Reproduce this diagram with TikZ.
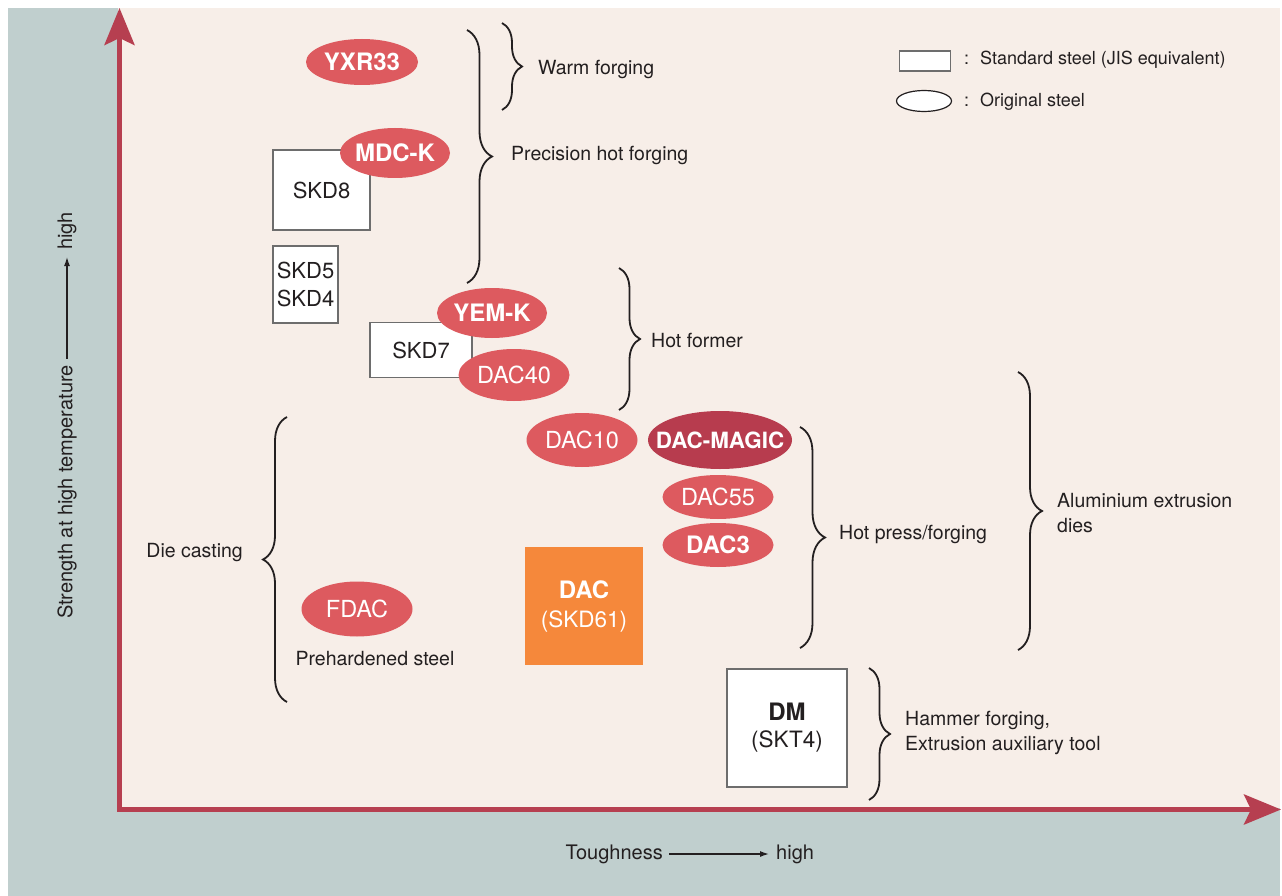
\documentclass[tikz,border=0pt]{standalone}
\usepackage{fontspec}
\setmainfont{TeX Gyre Heros}
\usetikzlibrary{shapes.geometric,arrows.meta,decorations.pathreplacing}
\definecolor{slate}{HTML}{C0CFCE}
\definecolor{paper}{HTML}{F7EEE8}
\definecolor{axisred}{HTML}{B63F50}
\definecolor{steelred}{HTML}{DD5A5F}
\definecolor{magicred}{HTML}{B73C4E}
\definecolor{dacorange}{HTML}{F5883B}
\definecolor{ink}{HTML}{231F20}
\definecolor{boxline}{HTML}{6D6D6D}

\begin{document}
\begin{tikzpicture}
  [x=1pt, y=-1pt,
   every node/.style={text=ink, inner sep=0pt},
   lbl/.style={font=\fontsize{19.5}{24.5}\selectfont, anchor=west, align=left},
   keylbl/.style={font=\fontsize{18}{20}\selectfont, anchor=west},
   axlbl/.style={font=\fontsize{20}{22}\selectfont},
   stdbox/.style={draw=boxline, line width=1.2pt, fill=white, align=center,
                  font=\fontsize{22}{28}\selectfont},
   orig/.style={ellipse, fill=steelred, text=white, minimum width=111pt, minimum height=48pt,
                inner xsep=-6pt, font=\fontsize{23.5}{26}\selectfont},
   origb/.style={orig, font=\fontsize{24}{26}\selectfont\bfseries},
   curly/.style={decorate, decoration={brace, amplitude=#1}, line width=1.8pt, draw=ink},
   axis/.style={line width=5pt, draw=axisred,
                {Stealth[length=37pt,width=30pt,inset=7pt]}-{Stealth[length=37pt,width=30pt,inset=7pt]}},
   pointer/.style={line width=1.3pt, draw=ink, -{Latex[length=9pt,width=6pt]},
                   shorten <=6pt, shorten >=7pt}]
  \useasboundingbox (0,0) rectangle (1282,896);
  \fill[slate] (8,8) rectangle (1280,896);
  \fill[paper] (118,8) rectangle (1280,808);

  % axes
  \coordinate (origin) at (119.5,809.5);
  \coordinate (ytip) at (119.5,8);
  \coordinate (xtip) at (1281,809.5);
  \draw[axis] (ytip) -- (origin) -- (xtip);

  \node[axlbl, anchor=east] (tough) at (663,854) {Toughness};
  \node[axlbl, anchor=west] (xhigh) at (776,854) {high};
  \draw[pointer] (tough) -- (xhigh);
  \node[axlbl, rotate=90, anchor=west] (strength) at (67,619) {Strength at high temperature};
  \node[axlbl, rotate=90, anchor=west] (yhigh) at (67,250) {high};
  \draw[pointer] (strength) -- (yhigh);

  % legend
  \node[stdbox, minimum width=51pt, minimum height=20pt] (keybox) at (925,61) {};
  \node[ellipse, draw=ink, fill=white, line width=1.2pt, minimum width=55pt, minimum height=21pt]
    (keyoval) at (924,101) {};
  \node[keylbl] (keystd) at (964,60) {:\hspace{11pt}Standard steel (JIS equivalent)};
  \node[keylbl] (keyorig) at (964,102) {:\hspace{11pt}Original steel};

  % standard steels
  \node[stdbox, minimum width=97pt, minimum height=80pt] (skd8) at (321.5,190) {SKD8};
  \node[stdbox, minimum width=65pt, minimum height=77pt] (skd54) at (305.5,284.5) {SKD5\\SKD4};
  \node[stdbox, minimum width=102pt, minimum height=55pt] (skd7) at (421,350) {SKD7};
  \node[fill=dacorange, text=white, minimum width=118pt, minimum height=118pt, align=center,
        font=\fontsize{22.5}{29}\selectfont] (dac) at (584,606) {\textbf{\fontsize{24}{29}\selectfont DAC}\\(SKD61)};
  \node[stdbox, minimum width=120pt, minimum height=118pt, font=\fontsize{22.5}{27}\selectfont]
    (dm) at (787,728) {\textbf{\fontsize{24}{27}\selectfont DM}\\(SKT4)};

  % original steels
  \node[origb, minimum width=112pt, minimum height=46pt] (yxr33) at (362,62) {YXR33};
  \node[origb, minimum width=110pt, minimum height=50pt] (mdck) at (395,153) {MDC-K};
  \node[origb, minimum width=110pt, minimum height=50pt] (yemk) at (492,313) {YEM-K};
  \node[orig, minimum height=52pt] (dac40) at (514,375) {DAC40};
  \node[orig, minimum height=54pt] (dac10) at (582,440) {DAC10};
  \node[origb, fill=magicred, minimum width=144pt, minimum height=58pt, inner xsep=-16pt,
        font=\fontsize{22.4}{25}\selectfont\bfseries] (magic) at (720,440) {DAC-MAGIC};
  \node[orig, minimum height=44pt] (dac55) at (718,497) {DAC55};
  \node[origb, minimum height=44pt] (dac3) at (718,545) {DAC3};
  \node[orig, minimum height=55pt] (fdac) at (357,609) {FDAC};
  \node[lbl, anchor=center] (prehard) at (375,659) {Prehardened steel};

  % braces
  \coordinate (warmtop) at (502,23);   \coordinate (warmbot) at (502,110);
  \coordinate (prectop) at (467,30);   \coordinate (precbot) at (467,283);
  \coordinate (formtop) at (619,268);  \coordinate (formbot) at (619,410);
  \coordinate (casttop) at (287,417);  \coordinate (castbot) at (287,702);
  \coordinate (presstop) at (800,427); \coordinate (pressbot) at (800,648);
  \coordinate (alutop) at (1018,372);  \coordinate (alubot) at (1018,650);
  \coordinate (hamtop) at (869,668);   \coordinate (hambot) at (869,800);
  \draw[curly=20] (warmtop) -- (warmbot);
  \draw[curly=25] (prectop) -- (precbot);
  \draw[curly=21] (formtop) -- (formbot);
  \draw[curly=24] (castbot) -- (casttop);
  \draw[curly=25] (presstop) -- (pressbot);
  \draw[curly=24] (alutop) -- (alubot);
  \draw[curly=21] (hamtop) -- (hambot);

  \node[lbl] (warm) at (538,69) {Warm forging};
  \node[lbl] (prec) at (511,155) {Precision hot forging};
  \node[lbl] (former) at (651,341) {Hot former};
  \node[lbl, anchor=east] (cast) at (243,553) {Die casting};
  \node[lbl] (press) at (839,534) {Hot press/forging};
  \node[lbl] (alu) at (1057,513) {Aluminium extrusion\\dies};
  \node[lbl] (hammer) at (905,733) {Hammer forging,\\Extrusion auxiliary tool};
\end{tikzpicture}
\end{document}
